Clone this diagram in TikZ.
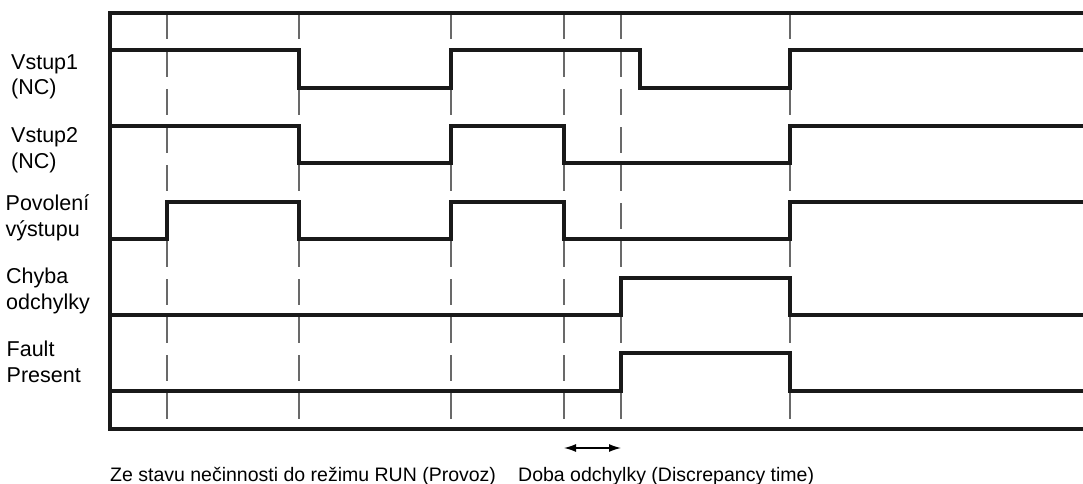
\documentclass[tikz,border=0pt]{standalone}
\usepackage{fontspec}
\setmainfont{Liberation Sans}
\usepackage{tikz}
\usetikzlibrary{arrows.meta}
\definecolor{guidegray}{RGB}{105,105,105}

\begin{document}
\begin{tikzpicture}[x=1pt,y=-1pt,
    sig/.style={black!90,line width=4.5pt,line join=miter},
    guide/.style={guidegray,line width=1.9pt,dash pattern=on 26pt off 12pt},
    signame/.style={anchor=base west,inner sep=0pt,align=left,
      font=\fontsize{21.5}{25.5}\selectfont},
    note/.style={anchor=base west,inner sep=0pt,font=\fontsize{19.5}{22}\selectfont}]
    \useasboundingbox (0,0) rectangle (1083,484);

    % dashed time marks
    \foreach \t in {167,299,451,564,621,790}
      \draw[guide] (\t,13) -- (\t,429);

    % frame
    \draw[sig] (1083,13) -- (110,13) -- (110,429) -- (1083,429);

    % Vstup1
    \draw[sig] (110,50) -- (299,50) -- (299,88) -- (451,88) -- (451,50)
      -- (640,50) -- (640,88) -- (790,88) -- (790,50) -- (1083,50);
    % Vstup2
    \draw[sig] (110,126) -- (299,126) -- (299,163) -- (451,163) -- (451,126)
      -- (564,126) -- (564,163) -- (790,163) -- (790,126) -- (1083,126);
    % Povoleni vystupu
    \draw[sig] (110,239) -- (167,239) -- (167,202) -- (299,202) -- (299,239)
      -- (451,239) -- (451,202) -- (564,202) -- (564,239) -- (790,239)
      -- (790,202) -- (1083,202);
    % Chyba odchylky
    \draw[sig] (110,315) -- (621,315) -- (621,278) -- (790,278) -- (790,315)
      -- (1083,315);
    % Fault Present
    \draw[sig] (110,391) -- (621,391) -- (621,353) -- (790,353) -- (790,391)
      -- (1083,391);

    % signal names (anchored at the baseline of the second line)
    \node[signame] (in1) at (11,95) {Vstup1\\(NC)};
    \node[signame] (in2) at (11,168) {Vstup2\\(NC)};
    \node[signame] (outen) at (5.5,236) {Povolení\\výstupu};
    \node[signame] (discerr) at (6,309) {Chyba\\odchylky};
    \node[signame] (fault) at (6.5,382) {Fault\\Present};

    % discrepancy time
    \coordinate (dstart) at (564,448);
    \coordinate (dend) at (621,448);
    \draw[{Latex[length=12pt,width=8pt]}-{Latex[length=12pt,width=8pt]},line width=1.3pt]
      (dstart) -- (dend);

    \node[note] (idle) at (110,481) {Ze stavu nečinnosti do režimu RUN (Provoz)};
    \node[note] (disc) at (518,481) {Doba odchylky (Discrepancy time)};
  \end{tikzpicture}
\end{document}
